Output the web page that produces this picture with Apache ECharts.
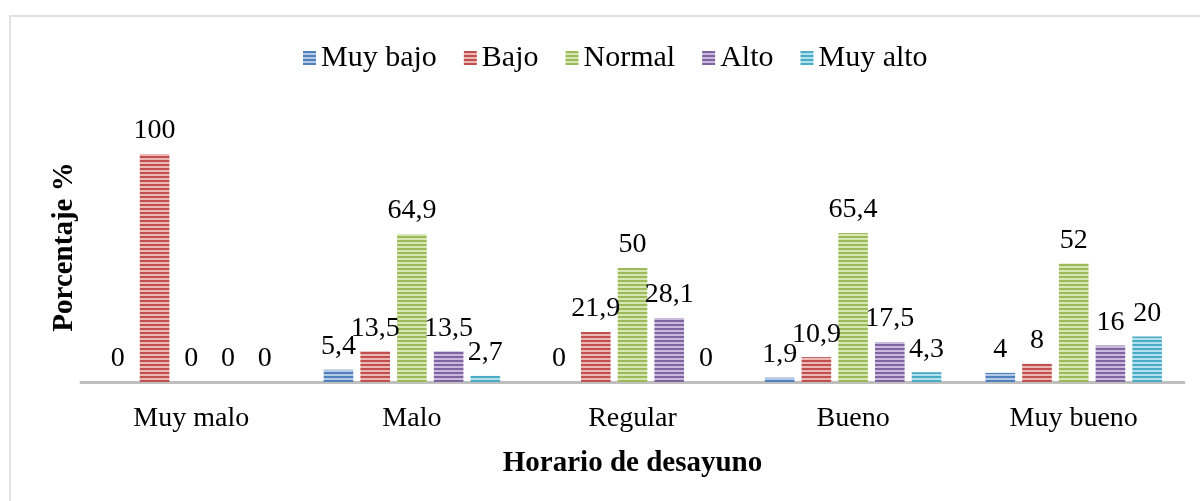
<!DOCTYPE html>
<html>
<head>
<meta charset="utf-8">
<script src="https://cdn.jsdelivr.net/npm/echarts@6/dist/echarts.min.js"></script>
<style>
  html, body { margin: 0; padding: 0; background: #fff; }
  #chart { width: 1200px; height: 501px; }
</style>
</head>
<body>
<div id="chart"></div>
<script>
const categories = ['Muy malo', 'Malo', 'Regular', 'Bueno', 'Muy bueno'];
const seriesNames = ['Muy bajo', 'Bajo', 'Normal', 'Alto', 'Muy alto'];
const muyBajo = [0, 5.4, 0, 1.9, 4];
const bajo = [100, 13.5, 21.9, 10.9, 8];
const normal = [0, 64.9, 50, 65.4, 52];
const alto = [0, 13.5, 28.1, 17.5, 16];
const muyAlto = [0, 2.7, 0, 4.3, 20];

const seriesData = [muyBajo, bajo, normal, alto, muyAlto];
const baseColors = ['#4F81BD', '#C0504D', '#9BBB59', '#8064A2', '#4BACC6'];
const lightColors = ['#B4C9E6', '#EBB8B6', '#D6E6B5', '#C9BADB', '#B3E0EC'];

const FONT = '"Liberation Serif", "Times New Roman", serif';

// horizontal stripe fill like the original
const stripes = (dark, light) => {
  const c = document.createElement('canvas');
  c.width = 4;
  c.height = 4;
  const ctx = c.getContext('2d');
  ctx.fillStyle = dark;
  ctx.fillRect(0, 0, 4, 2);
  ctx.fillStyle = light;
  ctx.fillRect(0, 2, 4, 2);
  return { image: c, repeat: 'repeat' };
};

const chart = echarts.init(document.getElementById('chart'));

chart.setOption({
  animation: false,
  backgroundColor: '#fff',
  textStyle: { fontFamily: FONT, color: '#000' },
  graphic: [
    {
      type: 'rect',
      shape: { x: 10, y: 16, width: 1220, height: 520 },
      style: { fill: 'none', stroke: '#D9D9D9', lineWidth: 1.5 },
      silent: true,
    },
    {
      type: 'text',
      x: 65,
      y: 247,
      rotation: Math.PI / 2,
      style: {
        text: 'Porcentaje %',
        font: 'bold 29px ' + FONT,
        fill: '#000',
        align: 'center',
        verticalAlign: 'middle',
      },
      silent: true,
    },
  ],
  legend: {
    left: 298,
    top: 38,
    icon: 'rect',
    itemWidth: 13,
    itemHeight: 14,
    itemGap: 27,
    textStyle: { fontFamily: FONT, fontSize: 30, color: '#000' },
    data: seriesNames,
  },
  grid: {
    left: 81,
    right: 16,
    top: 154,
    bottom: 119,
    containLabel: false,
  },
  xAxis: {
    type: 'category',
    data: categories,
    axisLine: { lineStyle: { color: '#BFBFBF', width: 3 } },
    axisTick: { show: false },
    axisLabel: { fontFamily: FONT, fontSize: 28, color: '#000', margin: 23 },
    name: 'Horario de desayuno',
    nameLocation: 'middle',
    nameGap: 67,
    nameTextStyle: { fontFamily: FONT, fontSize: 29, fontWeight: 'bold', color: '#000' },
  },
  yAxis: {
    type: 'value',
    min: 0,
    max: 100,
    axisLine: { show: false },
    axisTick: { show: false },
    axisLabel: { show: false },
    splitLine: { show: false },
  },
  series: seriesNames.map((name, i) => ({
    name,
    type: 'bar',
    data: seriesData[i],
    barGap: '24%',
    barCategoryGap: '20%',
    itemStyle: { color: stripes(baseColors[i], lightColors[i]) },
    label: {
      show: true,
      position: 'top',
      distance: 9,
      fontFamily: FONT,
      fontSize: 28,
      color: '#000',
      formatter: (p) => String(p.value).replace('.', ','),
    },
  })),
});
</script>
</body>
</html>
